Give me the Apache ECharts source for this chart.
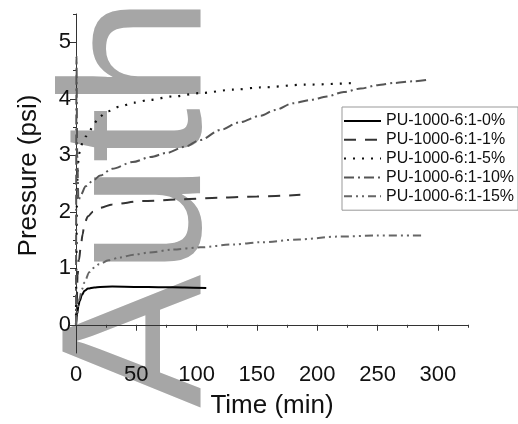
<!DOCTYPE html>
<html><head><meta charset="utf-8">
<script src="https://cdn.jsdelivr.net/npm/echarts@6/dist/echarts.min.js"></script>
<style>html,body{margin:0;padding:0;background:#fff}#c{width:518px;height:424px}</style>
</head><body><div id="c"></div>
<script>
const names = ['PU-1000-6:1-0%','PU-1000-6:1-1%','PU-1000-6:1-5%','PU-1000-6:1-10%','PU-1000-6:1-15%'];
const xMajorTicks = [0,50,100,150,200,250,300];
const xMinorTicks = [25,75,125,175,225,275,325];
const yMajorTicks = [0,1,2,3,4,5];
const yMinorTicks = [0.5,1.5,2.5,3.5,4.5,5.5];

const t0 = [0,1,2,3,5,7,10,15,20,30,50,70,90,108];
const p0 = [0,0.2,0.33,0.42,0.53,0.6,0.64,0.66,0.67,0.675,0.67,0.665,0.66,0.65];
const t1 = [0,0.5,1.3,2.5,4,5.5,7,10,14,20,30,55,89,120,150,186];
const p1 = [0,0.3,0.87,1.15,1.4,1.6,1.8,1.92,2.0,2.07,2.13,2.19,2.22,2.25,2.27,2.3];
const t5 = [0,0.3,0.8,1.5,3,5.5,8,11,15,19,27,36,48,61,80,103,130,153,190,232];
const p5 = [0,1.2,2.3,2.85,3.05,3.23,3.33,3.42,3.56,3.68,3.78,3.86,3.93,3.98,4.04,4.1,4.16,4.2,4.25,4.28];
const t10 = [0,0.4,1,2,4,8,14,20,30,47,62,75,90,103,120,135,153,165,180,195,208,222,236,250,264,280,293];
const p10 = [0,4.75,3.0,2.2,2.3,2.45,2.55,2.64,2.76,2.88,2.97,3.04,3.15,3.27,3.45,3.58,3.7,3.8,3.92,3.98,4.04,4.12,4.18,4.24,4.28,4.31,4.34];
const t15 = [0,1,2,2.8,5,7,11,15,19,27,36,48,61,80,103,130,153,185,217,250,288];
const p15 = [0,0.2,0.35,0.46,0.63,0.75,0.93,1.01,1.07,1.14,1.19,1.24,1.28,1.33,1.37,1.42,1.46,1.51,1.56,1.58,1.58];

const times = [t0,t1,t5,t10,t15];
const press = [p0,p1,p5,p10,p15];
const colors = ['#000000','#333333','#111111','#555555','#666666'];
const dashes = ['solid',[12,9],[2,7],[10,4,2,4],[8,4,2,4,2,4]];
const widths = [2,2,2.2,2,2];

const FONT = '"Liberation Sans", Arial, sans-serif';
const chart = echarts.init(document.getElementById('c'));
chart.setOption({
  animation: false,
  backgroundColor: '#fff',
  graphic: [{
    type: 'text', z: -10, x: 145, y: 408, rotation: Math.PI/2,
    style: { text: 'Author Manuscript', font: '200px ' + FONT, fill: '#a6a6a6', textAlign: 'left', textVerticalAlign: 'middle' }
  }],
  grid: { left: 76, right: 50, top: 14, bottom: 70, containLabel: false },
  legend: {
    orient: 'vertical', left: 342, top: 107,
    padding: [6, 4, 6, 1],
    itemWidth: 37, itemHeight: 12, itemGap: 2.8,
    borderColor: '#999', borderWidth: 1, backgroundColor: '#fff',
    itemStyle: { opacity: 0, borderWidth: 0, color: 'rgba(0,0,0,0)' },
    textStyle: { fontFamily: FONT, fontSize: 16, color: '#111', lineHeight: 16 },
    data: names
  },
  xAxis: [{
    type: 'value', min: 0, max: 325, position: 'bottom',
    name: 'Time (min)', nameLocation: 'middle', nameGap: 40,
    nameTextStyle: { fontFamily: FONT, fontSize: 26, color: '#111' },
    axisLine: { show: true, lineStyle: { color: '#333', width: 1 } },
    axisTick: { show: true, length: 6, customValues: xMajorTicks, lineStyle: { color: '#333' } },
    axisLabel: { customValues: xMajorTicks, fontFamily: FONT, fontSize: 22, color: '#111', margin: 11 },
    splitLine: { show: false }
  }, {
    type: 'value', min: 0, max: 325, position: 'bottom',
    axisLine: { show: false },
    axisTick: { show: true, length: 3, customValues: xMinorTicks, lineStyle: { color: '#333' } },
    axisLabel: { show: false }, splitLine: { show: false }
  }],
  yAxis: [{
    type: 'value', min: -0.5, max: 5.5, position: 'left',
    name: 'Pressure (psi)', nameLocation: 'middle', nameGap: 34,
    nameTextStyle: { fontFamily: FONT, fontSize: 26, color: '#111', padding: [0, 0, 0, 16] },
    axisLine: { show: true, lineStyle: { color: '#333', width: 1 } },
    axisTick: { show: true, length: 6, customValues: yMajorTicks, lineStyle: { color: '#333' } },
    axisLabel: { customValues: yMajorTicks, fontFamily: FONT, fontSize: 22, color: '#111', margin: 5 },
    splitLine: { show: false }
  }, {
    type: 'value', min: -0.5, max: 5.5, position: 'left',
    axisLine: { show: false },
    axisTick: { show: true, length: 3, customValues: yMinorTicks, lineStyle: { color: '#333' } },
    axisLabel: { show: false }, splitLine: { show: false }
  }],
  series: names.map((n, i) => ({
    name: n, type: 'line', showSymbol: false, symbol: 'none',
    smooth: 0.3, smoothMonotone: 'x',
    color: colors[i],
    lineStyle: { color: colors[i], width: widths[i], type: dashes[i] },
    data: times[i].map((t, k) => [t, press[i][k]])
  }))
});
</script></body></html>
